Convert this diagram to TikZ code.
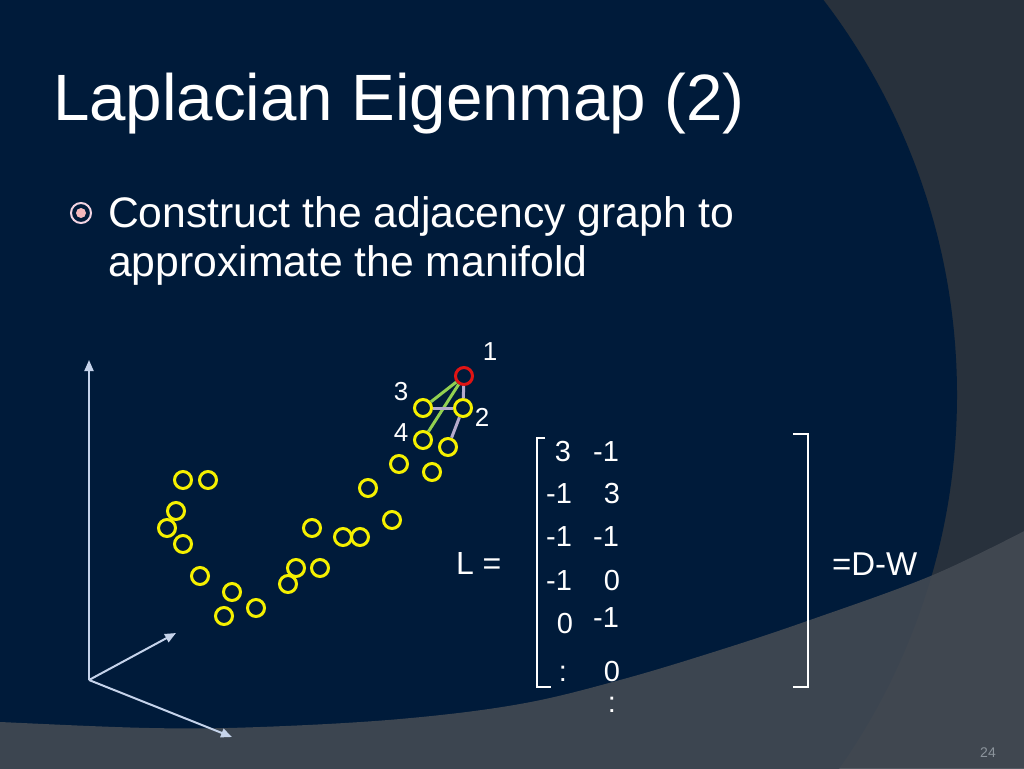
\documentclass[tikz,border=0pt]{standalone}
\usepackage{fontspec}
\setmainfont{Liberation Sans}
\usetikzlibrary{arrows.meta}
\definecolor{navy}{HTML}{001B3A}
\definecolor{greyTR}{HTML}{28313C}
\definecolor{bandgrey}{HTML}{434A53}
\definecolor{axiscol}{HTML}{C5D3EA}
\definecolor{ptyellow}{HTML}{F5F000}
\definecolor{ptred}{HTML}{E01414}
\definecolor{edgegreen}{HTML}{92D050}
\definecolor{edgelav}{HTML}{B4AACB}
\definecolor{bulletring}{HTML}{F2D4E2}
\definecolor{bulletdot}{HTML}{F5B8BC}
\definecolor{pagenum}{HTML}{8C949C}
\begin{document}
\begin{tikzpicture}[x=1pt,y=-1pt,
  txt/.style={inner sep=0pt, outer sep=0pt, text=white},
  ypt/.style={circle, draw=ptyellow, line width=3pt, minimum size=17pt, inner sep=0pt},
  rpt/.style={circle, draw=ptred, line width=3pt, minimum size=17pt, inner sep=0pt},
  gedge/.style={draw=edgegreen, line width=3pt},
  ledge/.style={draw=edgelav, line width=3pt},
  axis/.style={draw=axiscol, line width=2pt, -{Triangle[length=11pt,width=9pt]}},
  bracketline/.style={draw=white, line width=2pt},
  mat/.style={txt, anchor=base, font=\fontsize{29}{34}\selectfont},
  lbl/.style={txt, font=\fontsize{26}{30}\selectfont}
]
% background
\useasboundingbox (0,0) rectangle (1024,768);
\fill[greyTR] (0,0) rectangle (1024,768);
\begin{scope}
\clip (0,0) rectangle (1024,768);
\fill[navy] (306,395) circle[radius=651pt];
\fill[bandgrey, opacity=0.9] plot[smooth, tension=0.6] coordinates {(-10,721) (0,722) (150,728) (260,727) (400,719) (520,704) (620,680) (720,650) (810,620) (933,575) (1034,526)}
  -- (1034,778) -- (-10,778) -- cycle;
\end{scope}

% title and bullet
\node[txt, anchor=base west, font=\fontsize{65.5}{78}\selectfont] (title) at (53,120) {Laplacian Eigenmap (2)};
\node[circle, draw=bulletring, line width=2pt, minimum size=20pt, inner sep=0pt] (bul) at (81,213) {};
\fill[bulletdot] (bul.center) circle[radius=5pt];
\node[txt, anchor=base west, font=\fontsize{42.7}{50}\selectfont] (line1) at (108,227) {Construct the adjacency graph to};
\node[txt, anchor=base west, font=\fontsize{42.7}{50}\selectfont] (line2) at (108,276) {approximate the manifold};

% axes
\coordinate (origin) at (89,680);
\coordinate (ytip) at (89,360);
\coordinate (xtip) at (176,633);
\coordinate (ztip) at (232,737);
\draw[axis] (origin) -- (ytip);
\draw[axis] (origin) -- (xtip);
\draw[axis] (origin) -- (ztip);

% graph nodes
\node[rpt] (n1) at (464,376) {};
\node[ypt] (n2) at (463,408) {};
\node[ypt] (n3) at (423,408) {};
\node[ypt] (n4) at (423,440) {};
\node[ypt] (n5) at (448,447) {};
\foreach \nm/\px/\py in {a/399/464, b/432/472, c/368/488, d/392/520, e/343/537, f/360/537,
  g/312/528, h/296/568, i/288/584, j/320/568, k/256/608, l/232/592, m/224/616, n/200/576,
  o/183/544, p/167/528, q/176/511, r/183/480, s/208/480}
  \node[ypt] (y\nm) at (\px,\py) {};

\draw[gedge] (n1) -- (n3);
\draw[gedge] (n1) -- (n4);
\draw[ledge] (n1) -- (n2);
\draw[ledge] (n3) -- (n2);
\draw[ledge] (n2) -- (n5);

\node[lbl] (l1) at (490,352) {1};
\node[lbl] (l3) at (401,392) {3};
\node[lbl] (l2) at (482,417) {2};
\node[lbl] (l4) at (401,433) {4};

% matrix
\node[txt, anchor=base west, font=\fontsize{32}{38}\selectfont] (Leq) at (456,574) {L =};
\draw[bracketline] (545,438) -- (537,438) -- (537,687) -- (551,687);
\draw[bracketline] (793,434) -- (808,434) -- (808,687) -- (793,687);
\node[mat] (m11) at (563,461) {3};
\node[mat] (m12) at (606,461) {-1};
\node[mat] (m21) at (559,503) {-1};
\node[mat] (m22) at (612,503) {3};
\node[mat] (m31) at (559,546) {-1};
\node[mat] (m32) at (606,546) {-1};
\node[mat] (m41) at (559,590) {-1};
\node[mat] (m42) at (612,590) {0};
\node[mat] (m51) at (565,633) {0};
\node[mat] (m52) at (606,627) {-1};
\node[mat] (m61) at (563,681) {:};
\node[mat] (m62) at (612,681) {0};
\node[mat] (m72) at (612,712) {:};
\node[txt, anchor=base west, font=\fontsize{33}{38}\selectfont] (DW) at (832,575) {=D-W};

% page number
\node[txt, text=pagenum, font=\fontsize{14}{16}\selectfont] (pnum) at (988,753) {24};
\end{tikzpicture}
\end{document}
